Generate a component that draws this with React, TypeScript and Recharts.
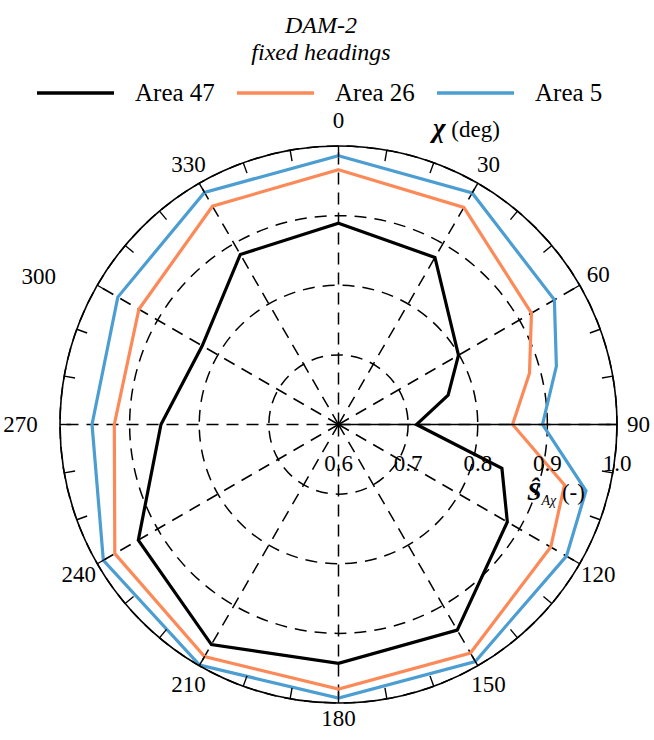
import React from 'react';
import { RadarChart, Radar, PolarGrid, PolarAngleAxis, PolarRadiusAxis } from 'recharts';

// ---- data ----
const headings = [0, 30, 60, 75, 90, 105, 120, 150, 180, 210, 240, 270, 300, 330];
const area47 = [0.889, 0.877, 0.799, 0.763, 0.712, 0.843, 0.880, 0.941, 0.943, 0.965, 0.932, 0.855, 0.826, 0.882];
const area26 = [0.966, 0.960, 0.920, 0.884, 0.850, 0.936, 0.952, 0.979, 0.980, 0.985, 0.971, 0.922, 0.931, 0.962];
const area5 = [0.986, 0.984, 0.958, 0.924, 0.893, 0.968, 0.978, 0.993, 0.993, 0.999, 0.990, 0.954, 0.966, 0.985];

const seriesKeys = ['a47', 'a26', 'a5'];
const seriesNames = ['Area 47', 'Area 26', 'Area 5'];
const seriesColors = ['#000000', '#FC8A58', '#4C9ED2'];

const angleTicks = Array.from({ length: 36 }, (_, i) => i * 10);
const labelHeadings = [0, 30, 60, 90, 120, 150, 180, 210, 240, 270, 300, 330];
const radiusTicks = [0.6, 0.7, 0.8, 0.9, 1.0];

const data = headings.map((h, i) => ({ angle: h, a47: area47[i], a26: area26[i], a5: area5[i] }));

// ---- layout ----
const W = 654;
const H = 740;
const CX = 338.5;
const CY = 424.5;
const R = 278.5;
const TICK = 11;
const LABEL_R = 300;
const FONT = '"Liberation Serif", "Times New Roman", serif';
const labelNudge: Record<number, [number, number]> = {
  0: [0, -4],
  90: [0, 0],
  180: [0, -6],
  270: [-18, 0],
  300: [-40, 2],
};

const renderAngleTick = (props: any) => {
  const { payload } = props;
  const h = Math.round(payload.value);
  const c = payload.coordinate;
  const rad = (c * Math.PI) / 180;
  const ux = Math.cos(rad);
  const uy = -Math.sin(rad);
  const x1 = CX + R * ux;
  const y1 = CY + R * uy;
  const x2 = CX + (R - TICK) * ux;
  const y2 = CY + (R - TICK) * uy;
  const isLabel = h % 30 === 0;
  const n = labelNudge[h] || [0, 0];
  const lx = CX + LABEL_R * ux + n[0];
  const ly = CY + LABEL_R * uy + n[1];
  return (
    <g>
      <line x1={x1} y1={y1} x2={x2} y2={y2} stroke="#000" strokeWidth={1.4} />
      {isLabel && (
        <text
          x={lx}
          y={ly}
          textAnchor="middle"
          dominantBaseline="central"
          fontFamily={FONT}
          fontSize={23}
          fill="#000"
        >
          {String(h)}
        </text>
      )}
    </g>
  );
};

const renderRadiusTick = (props: any) => {
  const { x, y, payload } = props;
  return (
    <text
      x={x}
      y={y + 39}
      textAnchor="middle"
      dominantBaseline="central"
      fontFamily={FONT}
      fontSize={23}
      fill="#000"
    >
      {Number(payload.value).toFixed(1)}
    </text>
  );
};

const spokeAngles = labelHeadings.map((h) => 90 - h);

const legendX = [37, 237, 437];

export default function App() {
  return (
    <div style={{ position: 'absolute', left: 0, top: 0, width: W, height: H, background: '#fff' }}>
      <RadarChart
        width={W}
        height={H}
        data={data}
        cx={CX}
        cy={CY}
        outerRadius={R}
        innerRadius={0}
        startAngle={90}
        endAngle={-270}
        margin={{ top: 0, right: 0, bottom: 0, left: 0 }}
      >
        <PolarGrid
          gridType="circle"
          polarAngles={spokeAngles}
          stroke="#000"
          strokeWidth={1.5}
          strokeDasharray="12 8"
        />
        <PolarAngleAxis
          dataKey="angle"
          type="number"
          domain={[0, 360]}
          ticks={angleTicks}
          tickLine={false}
          axisLine={{ stroke: '#000', strokeWidth: 1.6 }}
          axisLineType="circle"
          tick={renderAngleTick}
        />
        <PolarRadiusAxis
          angle={0}
          type="number"
          domain={[0.6, 1]}
          ticks={radiusTicks}
          axisLine={{ stroke: '#000', strokeWidth: 1.6 }}
          tickLine={false}
          tick={renderRadiusTick}
        />
        {[2, 1, 0].map((i) => (
          <Radar
            key={seriesKeys[i]}
            name={seriesNames[i]}
            dataKey={seriesKeys[i]}
            stroke={seriesColors[i]}
            strokeWidth={3.2}
            fill="none"
            fillOpacity={0}
            dot={false}
            isAnimationActive={false}
          />
        ))}
      </RadarChart>
      <svg
        width={W}
        height={H}
        style={{ position: 'absolute', left: 0, top: 0, pointerEvents: 'none' }}
      >
        <text x={321} y={33} textAnchor="middle" fontFamily={FONT} fontStyle="italic" fontSize={24} fill="#000">
          DAM-2
        </text>
        <text x={321} y={60} textAnchor="middle" fontFamily={FONT} fontStyle="italic" fontSize={24} fill="#000">
          fixed headings
        </text>
        {seriesNames.map((name, i) => (
          <g key={name}>
            <line x1={legendX[i]} y1={93} x2={legendX[i] + 77} y2={93} stroke={seriesColors[i]} strokeWidth={3.5} />
            <text x={legendX[i] + 98} y={101} fontFamily={FONT} fontSize={25} fill="#000">
              {name}
            </text>
          </g>
        ))}
        <text x={433} y={137} fontFamily={FONT} fontSize={23} fill="#000">
          <tspan fontWeight="bold" fontStyle="italic" fontSize={27}>χ</tspan>
          <tspan> (deg)</tspan>
        </text>
        <text x={527} y={500} fontFamily={FONT} fontSize={23} fill="#000">
          <tspan fontWeight="bold" fontStyle="italic" fontSize={26}>Ŝ</tspan>
          <tspan fontStyle="italic" fontSize={14} dy={5}>Aχ</tspan>
          <tspan dy={-5}> (-)</tspan>
        </text>
      </svg>
    </div>
  );
}
